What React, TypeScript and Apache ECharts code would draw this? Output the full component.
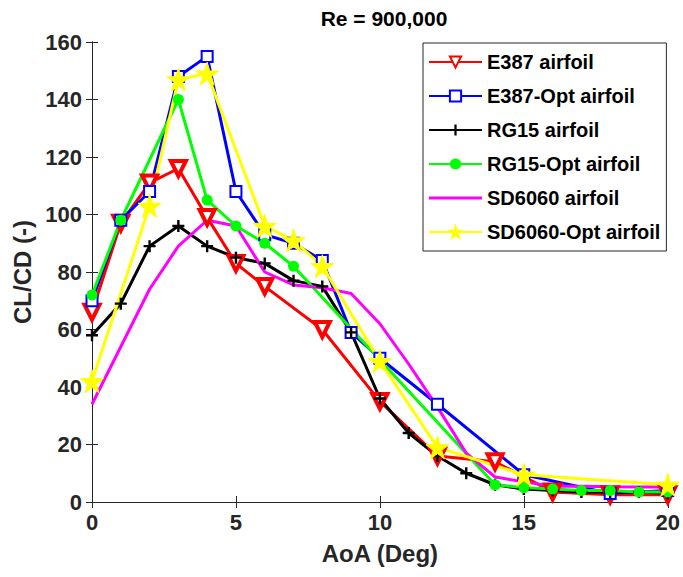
import React, { useEffect, useRef } from "react";
import * as echarts from "echarts";

const titleText = "Re = 900,000";
const xName = "AoA (Deg)";
const yName = "CL/CD (-)";

const e387X = [0, 1, 2, 3, 4, 5, 6, 8, 10, 12, 14, 16, 18, 20];
const e387Y = [66, 97, 111, 116, 99, 83, 75, 60, 35, 16, 14, 3.5, 2.5, 2.5];

const e387OptX = [0, 1, 2, 3, 4, 5, 6, 7, 8, 9, 10, 12, 15, 18, 20];
const e387OptY = [70, 98, 108, 148, 155, 108, 93, 90, 84, 59, 50, 34, 9.5, 3, 4];

const rg15X = [0, 1, 2, 3, 4, 5, 6, 7, 8, 9, 10, 11, 12, 13, 14, 15, 16, 17, 18, 19, 20];
const rg15Y = [58, 69, 89, 96, 89, 85, 83, 77, 75, 59, 36, 24, 16, 10, 6, 4.5, 4, 3.5, 3.5, 3.5, 3];

const rg15OptX = [0, 1, 3, 4, 5, 6, 7, 14, 15, 16, 17, 18, 19, 20];
const rg15OptY = [72, 98, 140, 105, 96, 90, 82, 6, 5, 4.5, 4, 4, 3.5, 3.5];

const sd6060X = [0, 1, 2, 3, 4, 5, 6, 7, 8, 9, 10, 11, 12, 13, 14, 15, 16, 17, 18, 19, 20];
const sd6060Y = [34, 54, 74, 89, 98, 96, 80, 75.5, 74.5, 72.5, 62, 48, 33, 17, 8.7, 7, 5.5, 5.5, 5.3, 5.2, 5.2];

const sd6060OptX = [0, 2, 3, 4, 6, 7, 8, 10, 12, 15, 20];
const sd6060OptY = [42, 103, 147, 149, 96, 91, 82, 49, 19, 9.5, 6];

const seriesNames = [
  "E387 airfoil",
  "E387-Opt airfoil",
  "RG15 airfoil",
  "RG15-Opt airfoil",
  "SD6060 airfoil",
  "SD6060-Opt airfoil",
];

const xTicks = { min: 0, max: 20, interval: 5 };
const yTicks = { min: 0, max: 160, interval: 20 };

const zip = (xs: number[], ys: number[]) => xs.map((x, i) => [x, ys[i]]);

const PLUS = "path://M0,4 L10,4 L10,6 L0,6 Z M4,0 L6,0 L6,10 L4,10 Z";
const STAR = "path://M50,0 L61,35 L98,35 L68,57 L79,91 L50,70 L21,91 L32,57 L2,35 L39,35 Z";
const LINE_ICON = "path://M0,0 L53,0 L53,3 L0,3 Z";

const FONT = "'Liberation Sans', Arial, Helvetica, sans-serif";
const AXC = "#262626";

export default function App() {
  const ref = useRef<HTMLDivElement>(null);
  useEffect(() => {
    if (!ref.current) return;
    const chart = echarts.init(ref.current, undefined, { renderer: "svg" });
    const lw = 3;
    const mk = (
      name: string,
      data: number[][],
      color: string,
      symbol: string,
      symbolSize: number,
      itemStyle: any,
      extra: any = {}
    ) => ({
      type: "line",
      name,
      data,
      symbol,
      symbolSize,
      showAllSymbol: true,
      lineStyle: { color, width: lw },
      itemStyle,
      color,
      emphasis: { disabled: true },
      ...extra,
    });
    const series = [
      mk(seriesNames[0], zip(e387X, e387Y), "#ff0000", "triangle", 15, {
        color: "#ffffff",
        borderColor: "#ff0000",
        borderWidth: 4,
      }, { symbolRotate: 180 }),
      mk(seriesNames[1], zip(e387OptX, e387OptY), "#0000ff", "rect", 11, {
        color: "#ffffff",
        borderColor: "#0000ff",
        borderWidth: 2,
      }),
      mk(seriesNames[2], zip(rg15X, rg15Y), "#000000", PLUS, 12, {
        color: "#000000",
        borderWidth: 0,
      }),
      mk(seriesNames[3], zip(rg15OptX, rg15OptY), "#00ff00", "circle", 11, {
        color: "#00ff00",
        borderWidth: 0,
      }),
      mk(seriesNames[4], zip(sd6060X, sd6060Y), "#ff00ff", "none", 0, {
        color: "#ff00ff",
      }),
      mk(seriesNames[5], zip(sd6060OptX, sd6060OptY), "#ffff00", STAR, 23, {
        color: "#ffff00",
        borderColor: "#ffff00",
        borderWidth: 1,
      }),
    ];
    const axisLabelBase = {
      fontFamily: FONT,
      fontWeight: "bold",
      fontSize: 22,
      color: AXC,
    };
    chart.setOption({
      animation: false,
      backgroundColor: "#ffffff",
      grid: { left: 92, right: 7, top: 42, bottom: 75, show: false },
      graphic: [
        {
          type: "text",
          x: 384,
          y: 18,
          style: {
            text: titleText,
            fontFamily: FONT,
            fontWeight: "bold",
            fontSize: 21,
            fill: "#000000",
            textAlign: "center",
            textVerticalAlign: "middle",
          },
          z: 10,
        },
      ],
      legend: {
        orient: "vertical",
        left: 423,
        top: 43,
        padding: [9, 6, 9, 5],
        itemGap: 14,
        itemWidth: 53,
        itemHeight: 14,
        backgroundColor: "#ffffff",
        borderColor: AXC,
        borderWidth: 1,
        borderRadius: 0,
        data: seriesNames.map((n, i) => (i === 4 ? { name: n, icon: LINE_ICON } : n)),
        textStyle: {
          fontFamily: FONT,
          fontWeight: "bold",
          fontSize: 20,
          color: "#000000",
          padding: [0, 0, 0, 0],
        },
        z: 20,
      },
      xAxis: [
        {
          type: "value",
          position: "bottom",
          min: xTicks.min,
          max: xTicks.max,
          interval: xTicks.interval,
          name: xName,
          nameLocation: "middle",
          nameGap: 39,
          nameTextStyle: {
            fontFamily: FONT,
            fontWeight: "bold",
            fontSize: 24,
            color: AXC,
          },
          axisLine: { show: true, lineStyle: { color: AXC, width: 1 } },
          axisTick: { show: true, inside: true, length: 6, lineStyle: { color: AXC } },
          axisLabel: { ...axisLabelBase, margin: 9 },
          splitLine: { show: false },
        },
        {
          type: "value",
          position: "top",
          min: xTicks.min,
          max: xTicks.max,
          interval: xTicks.interval,
          axisLine: { show: true, lineStyle: { color: AXC, width: 1 } },
          axisTick: { show: true, inside: true, length: 6, lineStyle: { color: AXC } },
          axisLabel: { show: false },
          splitLine: { show: false },
        },
      ],
      yAxis: [
        {
          type: "value",
          position: "left",
          min: yTicks.min,
          max: yTicks.max,
          interval: yTicks.interval,
          name: yName,
          nameLocation: "middle",
          nameGap: 53,
          nameTextStyle: {
            fontFamily: FONT,
            fontWeight: "bold",
            fontSize: 24,
            color: AXC,
          },
          axisLine: { show: true, lineStyle: { color: AXC, width: 1 } },
          axisTick: { show: true, inside: true, length: 6, lineStyle: { color: AXC } },
          axisLabel: { ...axisLabelBase, margin: 10 },
          splitLine: { show: false },
        },
        {
          type: "value",
          position: "right",
          min: yTicks.min,
          max: yTicks.max,
          interval: yTicks.interval,
          axisLine: { show: true, lineStyle: { color: AXC, width: 1 } },
          axisTick: { show: true, inside: true, length: 6, lineStyle: { color: AXC } },
          axisLabel: { show: false },
          splitLine: { show: false },
        },
      ],
      series,
    });
    return () => chart.dispose();
  }, []);
  return (
    <div
      ref={ref}
      style={{ position: "absolute", left: 0, top: 0, width: 683, height: 577 }}
    />
  );
}
